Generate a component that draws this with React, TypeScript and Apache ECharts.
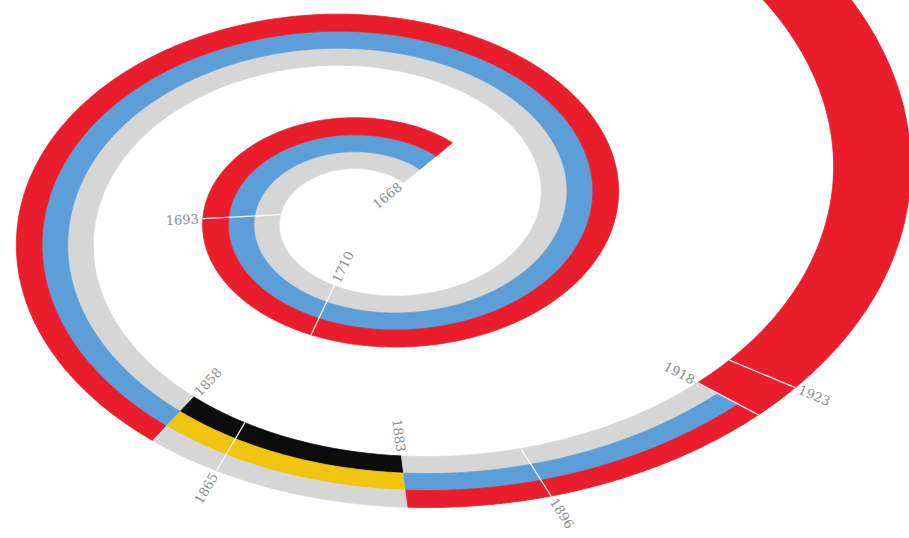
import React, { useEffect, useRef } from "react";
import * as echarts from "echarts";

// ---- data -------------------------------------------------------------
// flag periods drawn along the spiral
const periodStart = [1668, 1858, 1883, 1918];
const periodEnd = [1858, 1883, 1918, 1991];
const periodFlag = [0, 1, 0, 2]; // index into flagNames
const flagNames = ["tricolor", "imperial", "soviet"];
// stripe colours from the inside of the spiral to the outside
const flagStripes = [
  ["#d6d6d6", "#5c9fd8", "#ea1d2c"],
  ["#0c0c0c", "#f1c40f", "#d6d6d6"],
  ["#ea1d2c", "#ea1d2c", "#ea1d2c"],
];

// year marks along the spiral
const markYears = [1668, 1693, 1710, 1858, 1865, 1883, 1896, 1918, 1923];
const markLabels = ["1668", "1693", "1710", "1858", "1865", "1883", "1896", "1918", "1923"];
const markSide = [0, 1, 0, 0, 1, 0, 1, 0, 1]; // 0 = inside, 1 = outside
const markRule = [0, 1, 1, 0, 1, 0, 1, 1, 1]; // white rule across the band

// ---- spiral layout (the "scale" that turns a year into a place) -----
const CX = 370;
const CY = 210;
const K = 0.66; // vertical foreshortening
const BAND = 78;
const START_YEAR = 1668;
const UNITS_PER_YEAR = 10.2;
const anchorDeg = [51, 90, 180, 270, 360, 450, 540, 630, 720, 810];
const anchorR = [92, 100, 127, 167, 208, 256, 311, 408, 498, 610];

function slopeAt(j: number) {
  const n = anchorDeg.length;
  if (j === 0) return (anchorR[1] - anchorR[0]) / (anchorDeg[1] - anchorDeg[0]);
  if (j === n - 1) return (anchorR[n - 1] - anchorR[n - 2]) / (anchorDeg[n - 1] - anchorDeg[n - 2]);
  return (anchorR[j + 1] - anchorR[j - 1]) / (anchorDeg[j + 1] - anchorDeg[j - 1]);
}
function radiusAt(d: number) {
  const n = anchorDeg.length;
  let i = 0;
  while (i < n - 2 && d > anchorDeg[i + 1]) i++;
  const x0 = anchorDeg[i], x1 = anchorDeg[i + 1];
  const h = x1 - x0;
  const t = (d - x0) / h;
  const m0 = slopeAt(i) * h, m1 = slopeAt(i + 1) * h;
  const t2 = t * t, t3 = t2 * t;
  return (2 * t3 - 3 * t2 + 1) * anchorR[i] + (t3 - 2 * t2 + t) * m0 + (-2 * t3 + 3 * t2) * anchorR[i + 1] + (t3 - t2) * m1;
}
const tabDeg: number[] = [];
const tabLen: number[] = [];
(function build() {
  let acc = 0;
  let px = 0, py = 0;
  const last = anchorDeg[anchorDeg.length - 1];
  for (let d = anchorDeg[0]; d <= last + 1e-9; d += 0.25) {
    const r = radiusAt(d);
    const a = (d * Math.PI) / 180;
    const x = r * Math.cos(a), y = r * Math.sin(a);
    if (tabDeg.length) acc += Math.hypot(x - px, y - py);
    tabDeg.push(d);
    tabLen.push(acc);
    px = x; py = y;
  }
})();
function degOfYear(year: number) {
  const s = (year - START_YEAR) * UNITS_PER_YEAR;
  if (s <= 0) return tabDeg[0];
  let lo = 0, hi = tabLen.length - 1;
  if (s >= tabLen[hi]) return tabDeg[hi];
  while (hi - lo > 1) {
    const mid = (lo + hi) >> 1;
    if (tabLen[mid] < s) lo = mid; else hi = mid;
  }
  const f = (s - tabLen[lo]) / (tabLen[hi] - tabLen[lo]);
  return tabDeg[lo] + f * (tabDeg[hi] - tabDeg[lo]);
}
function spiralPoint(d: number, off: number): [number, number] {
  const r = radiusAt(d) + off;
  const a = (d * Math.PI) / 180;
  return [CX + r * Math.cos(a), CY - K * r * Math.sin(a)];
}

export default function App() {
  const ref = useRef<HTMLDivElement>(null);
  useEffect(() => {
    document.body.style.margin = "0";
    if (!ref.current) return;
    const chart = echarts.init(ref.current, undefined, { renderer: "svg" });

    const bandData = periodStart.map((s, i) => [s, periodEnd[i], periodFlag[i]]);
    const markData = markYears.map((y, i) => [y, markSide[i], markRule[i], i]);

    const renderBand = (params: any, api: any) => {
      const y0 = api.value(0), y1 = api.value(1);
      const stripes = flagStripes[api.value(2)];
      const d0 = degOfYear(y0), d1 = degOfYear(y1);
      const n = Math.max(2, Math.ceil((d1 - d0) / 0.5) + 1);
      const edges = [-BAND / 2, -BAND / 6, BAND / 6, BAND / 2];
      // merge neighbouring stripes of the same colour into one shape
      const runs: { from: number; to: number; color: string }[] = [];
      for (let k = 0; k < 3; k++) {
        const last = runs[runs.length - 1];
        if (last && last.color === stripes[k]) last.to = k + 1;
        else runs.push({ from: k, to: k + 1, color: stripes[k] });
      }
      const children: any[] = [];
      for (const run of runs) {
        const inner: number[][] = [], outer: number[][] = [];
        for (let j = 0; j < n; j++) {
          const d = d0 + ((d1 - d0) * j) / (n - 1);
          inner.push(api.coord(spiralPoint(d, edges[run.from])));
          outer.push(api.coord(spiralPoint(d, edges[run.to])));
        }
        const pts = inner.concat(outer.reverse());
        children.push({
          type: "polygon",
          shape: { points: pts },
          style: { fill: run.color, stroke: run.color, lineWidth: 0.8 },
        });
      }
      return { type: "group", children };
    };

    const renderMark = (params: any, api: any) => {
      const year = api.value(0);
      const side = api.value(1);
      const rule = api.value(2);
      const idx = api.value(3);
      const d = degOfYear(year);
      const pi = api.coord(spiralPoint(d, -BAND / 2));
      const po = api.coord(spiralPoint(d, BAND / 2));
      let dx = po[0] - pi[0], dy = po[1] - pi[1];
      const len = Math.hypot(dx, dy);
      dx /= len; dy /= len;
      const children: any[] = [];
      if (rule) {
        children.push({
          type: "line",
          shape: { x1: pi[0], y1: pi[1], x2: po[0], y2: po[1] },
          style: { stroke: "#ffffff", lineWidth: 1.3, opacity: 0.9 },
        });
      }
      const gap = 4;
      const anchor = side === 1 ? [po[0] + dx * gap, po[1] + dy * gap] : [pi[0] - dx * gap, pi[1] - dy * gap];
      let rot = -Math.atan2(dy, dx);
      if (rot > Math.PI / 2) rot -= Math.PI;
      if (rot < -Math.PI / 2) rot += Math.PI;
      const ux = Math.cos(rot), uy = -Math.sin(rot);
      const readsOut = ux * dx + uy * dy > 0;
      let align: string;
      if (side === 1) align = readsOut ? "left" : "right";
      else align = readsOut ? "right" : "left";
      children.push({
        type: "text",
        x: anchor[0],
        y: anchor[1],
        rotation: rot,
        style: {
          text: markLabels[idx],
          fill: "#8c8c8c",
          fontSize: 13,
          fontFamily: "DejaVu Serif",
          align,
          verticalAlign: "middle",
        },
      });
      return { type: "group", children };
    };

    chart.setOption({
      animation: false,
      grid: { left: 0, right: 0, top: 0, bottom: 0 },
      xAxis: { type: "value", min: 0, max: 909, show: false },
      yAxis: { type: "value", min: 0, max: 538, inverse: true, show: false },
      series: [
        {
          type: "custom",
          name: flagNames.join("/"),
          renderItem: renderBand,
          data: bandData,
          encode: { x: [0], y: [] },
          z: 1,
          silent: true,
        },
        {
          type: "custom",
          name: "marks",
          renderItem: renderMark,
          data: markData,
          encode: { x: [0], y: [] },
          z: 2,
          silent: true,
        },
      ],
    });
    return () => chart.dispose();
  }, []);
  return <div ref={ref} style={{ width: 909, height: 538 }} />;
}
